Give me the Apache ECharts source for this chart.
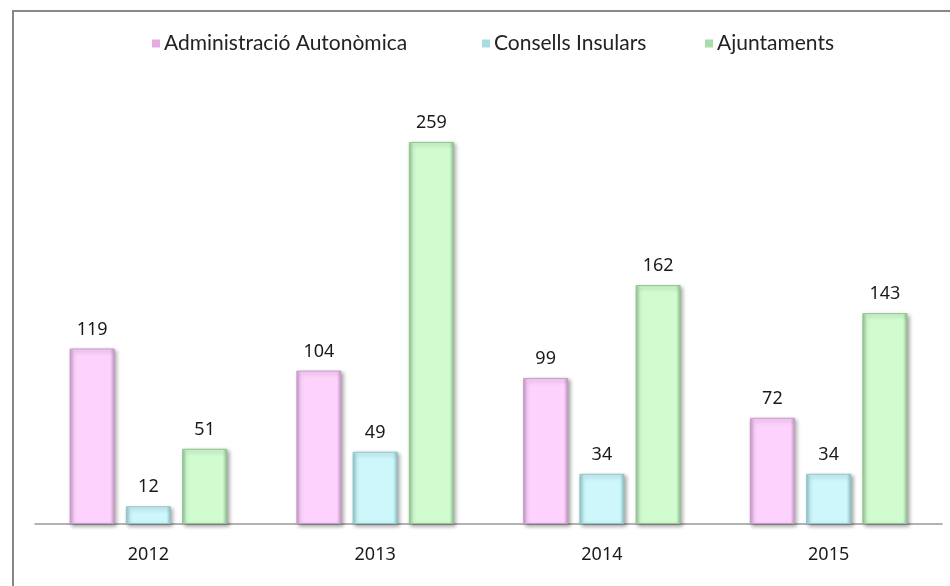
<!DOCTYPE html>
<html>
<head>
<meta charset="UTF-8">
<title>Chart</title>
<script src="https://cdn.jsdelivr.net/npm/echarts@6/dist/echarts.min.js"></script>
<style>
html, body { margin: 0; padding: 0; background: #fff; }
</style>
</head>
<body>
	<div id="container" style="width:950px;height:586px;"></div>
	<script type="text/javascript">
	var years = ['2012', '2013', '2014', '2015'];   // categories
	var names = ['Administració Autonòmica', 'Consells Insulars', 'Ajuntaments'];
	var autonomica = [119, 104, 99, 72];
	var consells = [12, 49, 34, 34];
	var ajuntaments = [51, 259, 162, 143];

	var edges = ['#c99ac9', '#8fc4c9', '#93c493'];
	var mids = ['#fdd2fd', '#cdf7fb', '#d0fcd0'];
	var icons = ['#e4ace4', '#a8dde4', '#a8dca8'];
	var legendLeft = [147, 477, 700];

	function barFill(edge, mid) {
		return new echarts.graphic.LinearGradient(0, 0, 1, 0, [
			{offset: 0, color: edge},
			{offset: 0.1, color: mid},
			{offset: 0.9, color: mid},
			{offset: 1, color: edge}
		]);
	}

	function makeSeries(i, data) {
		return {
			name: names[i],
			type: 'bar',
			data: data,
			barWidth: 45,
			barGap: '25%',
			itemStyle: {
				color: barFill(edges[i], mids[i]),
				borderColor: edges[i],
				borderWidth: 1,
				shadowColor: 'rgba(0,0,0,0.35)',
				shadowBlur: 4,
				shadowOffsetX: 2,
				shadowOffsetY: 2
			},
			label: {
				show: true,
				position: 'top',
				distance: 10,
				color: '#1a1a1a',
				fontFamily: 'Noto Sans',
				fontSize: 18
			}
		};
	}

	var legends = [];
	for (var i = 0; i < names.length; i++) {
		legends.push({
			top: 28,
			left: legendLeft[i],
			itemWidth: 8,
			itemHeight: 8,
			itemGap: 0,
			icon: 'rect',
			textStyle: {
				fontFamily: 'Lato',
				fontSize: 21,
				color: '#222',
				padding: [0, 0, 0, -1]
			},
			data: [{name: names[i], itemStyle: {color: icons[i], borderWidth: 0}}]
		});
	}

	var dom = document.getElementById("container");
	var myChart = echarts.init(dom);

	var option = {
		animation: false,
		graphic: [
			{
				type: 'polyline',
				shape: {points: [[13, 586], [13, 11], [950, 11]]},
				style: {stroke: '#888', lineWidth: 2, fill: null}
			}
		],
		legend: legends,
		grid: {
			left: 35,
			right: 8,
			top: 81.5,
			bottom: 62
		},
		xAxis: {
			type: 'category',
			data: years,
			axisLine: {lineStyle: {color: '#999', width: 1.5}},
			axisTick: {show: false},
			axisLabel: {
				margin: 22,
				color: '#1a1a1a',
				fontFamily: 'Noto Sans',
				fontSize: 18
			}
		},
		yAxis: {
			type: 'value',
			min: 0,
			max: 300,
			show: false,
			splitLine: {show: false}
		},
		series: [
			makeSeries(0, autonomica),
			makeSeries(1, consells),
			makeSeries(2, ajuntaments)
		]
	};

	myChart.setOption(option);
	</script>
</body>
</html>
